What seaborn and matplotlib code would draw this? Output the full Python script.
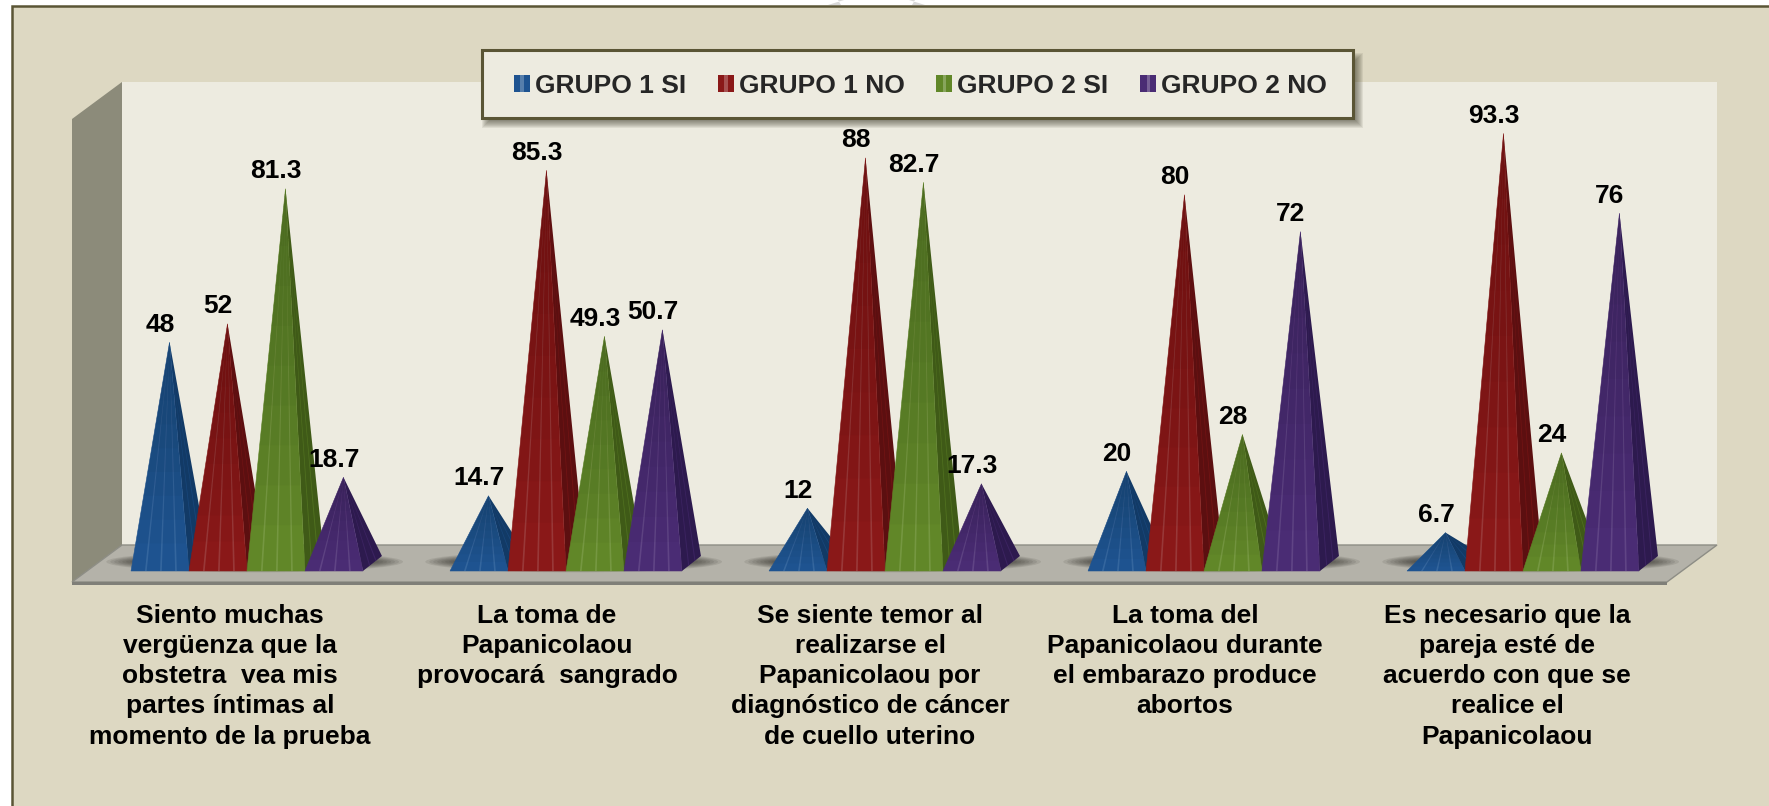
#!/usr/bin/env python3
# -*- coding: utf-8 -*-

import matplotlib as mpl
import matplotlib.pyplot as plt
import seaborn as sns
import numpy as np
import pandas as pd
from matplotlib.legend_handler import HandlerPatch
from matplotlib.patches import Ellipse, Patch, Polygon, Rectangle
from matplotlib.transforms import ScaledTranslation

mpl.use("Agg")

sns.set_style("white")
plt.rcParams["font.family"] = ["Liberation Sans", "DejaVu Sans"]

PREGUNTAS = [
    "Siento muchas\nvergüenza que la\nobstetra  vea mis\npartes íntimas al\nmomento de la prueba",
    "La toma de\nPapanicolaou\nprovocará  sangrado",
    "Se siente temor al\nrealizarse el\nPapanicolaou por\ndiagnóstico de cáncer\nde cuello uterino",
    "La toma del\nPapanicolaou durante\nel embarazo produce\nabortos",
    "Es necesario que la\npareja esté de\nacuerdo con que se\nrealice el\nPapanicolaou",
]
GRUPOS = ["GRUPO 1 SI", "GRUPO 1 NO", "GRUPO 2 SI", "GRUPO 2 NO"]

grupo1_si = [48, 14.7, 12, 20, 6.7]
grupo1_no = [52, 85.3, 88, 80, 93.3]
grupo2_si = [81.3, 49.3, 82.7, 28, 24]
grupo2_no = [18.7, 50.7, 17.3, 72, 76]

# front / stripe / side colours per series
front = ["#1e5390", "#8a1818", "#618728", "#4a2c74"]
stripe = ["#4474a8", "#a34f4f", "#83a352", "#6f5592"]
side = ["#123a66", "#5c0f10", "#3f5a17", "#2d1a4e"]

W, H = 1769, 806
BG = "#ddd8c2"
FRAME = "#5a5535"
WALL = "#edebe0"

# pixel layout of the fake 3d box
AX_L, AX_R, AX_TOP, AX_BOTTOM = 87.5, 1682.5, 110, 571
PX_X = (AX_R - AX_L) / 5
PX_Y = (AX_BOTTOM - AX_TOP) / 100
DEPTH_X = 19 / PX_X
DEPTH_Y = 15 / PX_Y
LABEL_SHIFT = [-17, -19, -15, -19, -16]

df = pd.DataFrame(
    {
        "pregunta": PREGUNTAS * 4,
        "grupo": np.repeat(GRUPOS, len(PREGUNTAS)),
        "valor": grupo1_si + grupo1_no + grupo2_si + grupo2_no,
    }
)

fig = plt.figure(figsize=(W / 100, H / 100), dpi=100, facecolor="white")

# background: frame, walls and floor, in pixels
bg = fig.add_axes([0, 0, 1, 1])
bg.set_xlim(0, W)
bg.set_ylim(H, 0)
bg.axis("off")
bg.add_patch(Rectangle((12, 6), W, H, facecolor=BG, edgecolor=FRAME, linewidth=1.8))
for x_m in [838, 915]:
    d = 1 if x_m < 850 else -1
    bg.add_patch(Polygon([(x_m, 0), (x_m + 6 * d, 0), (x_m - 10 * d, 5), (x_m + 3 * d, 5)],
                         color="#d8d8d8", linewidth=0))
bg.add_patch(Rectangle((122, 82), 1595, 463, facecolor=WALL, linewidth=0))
bg.add_patch(Polygon([(72, 119), (122, 82), (122, 545), (72, 582)], facecolor="#8c8b7a", linewidth=0))
bg.add_patch(Polygon([(122, 545), (1717, 545), (1667, 582), (72, 582)], facecolor="#b4b2a9",
                     edgecolor="#8d8d85", linewidth=1.0))
bg.add_patch(Rectangle((72, 582), 1595, 2.5, facecolor="#7f7f78", linewidth=0))

# legend box with a soft shadow
for k in range(9):
    bg.add_patch(Rectangle((482 + k, 53 + k), 881 - 2 * k, 75 - 2 * k,
                           facecolor="#3c3a2c", alpha=0.09, linewidth=0))
bg.add_patch(Rectangle((482, 50), 871, 68, facecolor=WALL, edgecolor=FRAME, linewidth=2.2))

ax = fig.add_axes([AX_L / W, 1 - AX_BOTTOM / H, (AX_R - AX_L) / W, (AX_BOTTOM - AX_TOP) / H])
ax.patch.set_visible(False)
sns.barplot(
    data=df,
    x="pregunta",
    y="valor",
    hue="grupo",
    hue_order=GRUPOS,
    order=PREGUNTAS,
    palette=front,
    width=0.727,
    gap=0,
    legend=False,
    ax=ax,
)
ax.set_xlim(-0.5, 4.5)
ax.set_ylim(0, 100)
ax.set_xlabel("")
ax.set_ylabel("")
ax.set_yticks([])
sns.despine(ax=ax, left=True, bottom=True)

# shadow on the floor under each group
for i in range(len(PREGUNTAS)):
    for s, t in zip(np.linspace(1.0, 0.76, 10), np.linspace(1.0, 0.3, 10)):
        ax.add_patch(Ellipse((i + 0.024, 2.0), 0.93 * s, 4.6 * t, facecolor="#2c2b24",
                             alpha=0.11, linewidth=0, clip_on=False, zorder=1))


def draw_pyramid(x0, x1, value, c_front, c_stripe, c_side, z):
    # the bar gives the base and the height, the pyramid goes on top of it
    apex = ((x0 + x1) / 2 + DEPTH_X / 2, value + DEPTH_Y / 2)
    back = (x1 + DEPTH_X, DEPTH_Y)
    ax.add_patch(Polygon([(x1, 0), back, apex], facecolor=c_side, linewidth=0, zorder=z, clip_on=False))
    for f in [0.33, 0.66]:
        p = (x1 + DEPTH_X * f, DEPTH_Y * f)
        q = (x1 + DEPTH_X * (f + 0.05), DEPTH_Y * (f + 0.05))
        ax.add_patch(Polygon([p, q, apex], facecolor=c_front, alpha=0.5, linewidth=0, zorder=z, clip_on=False))
    ax.add_patch(Polygon([(x0, 0), (x1, 0), apex], facecolor=c_front, edgecolor=c_front,
                         linewidth=0.4, zorder=z, clip_on=False))
    w = x1 - x0
    for f in [0.24, 0.5, 0.76]:
        ax.add_patch(Polygon([(x0 + w * f, 0), (x0 + w * (f + 0.03), 0), apex], facecolor=c_stripe,
                             alpha=0.6, linewidth=0, zorder=z, clip_on=False))
    # gets darker towards the tip
    for t in np.linspace(0.12, 0.85, 8):
        ax.add_patch(Polygon(
            [(x0 + (apex[0] - x0) * t, apex[1] * t), (x1 + (apex[0] - x1) * t, apex[1] * t), apex],
            facecolor="black", alpha=0.025, linewidth=0, zorder=z, clip_on=False))


bars = []
for idx, container in enumerate(ax.containers):
    for bar in container:
        bars.append((bar.get_x(), bar, idx))
        bar.set_visible(False)
    ax.bar_label(container, fmt="%g", padding=9.4, fontsize=19, fontweight="bold",
                 color="black", zorder=50, clip_on=False)

for n, (x, bar, idx) in enumerate(sorted(bars, key=lambda b: b[0])):
    draw_pyramid(x, x + bar.get_width(), bar.get_height(), front[idx], stripe[idx], side[idx], 2 + n * 0.1)

# tick labels, Excel placed them a bit off centre
ax.tick_params(axis="x", length=0, pad=23.5)
ax.set_xticks(range(len(PREGUNTAS)))
ax.set_xticklabels(PREGUNTAS, fontsize=19, fontweight="bold", color="black", linespacing=1.33)
for label, shift in zip(ax.get_xticklabels(), LABEL_SHIFT):
    label.set_transform(label.get_transform() + ScaledTranslation(shift / 100, 0, fig.dpi_scale_trans))


class StripedSquare(HandlerPatch):
    def create_artists(self, legend, orig_handle, xdescent, ydescent, width, height, fontsize, trans):
        box = Rectangle((-xdescent, -ydescent), width, height, facecolor=orig_handle.get_facecolor(),
                        linewidth=0, transform=trans)
        line = Rectangle((-xdescent + width * 0.42, -ydescent), width * 0.22, height,
                         facecolor="white", alpha=0.25, linewidth=0, transform=trans)
        return [box, line]


handles = [Patch(facecolor=c, label=g) for c, g in zip(front, GRUPOS)]
ax.legend(
    handles=handles,
    ncol=4,
    loc="center",
    bbox_to_anchor=(920.5 / W, 1 - 86 / H),
    bbox_transform=fig.transFigure,
    frameon=False,
    prop={"size": 19, "weight": "bold"},
    handlelength=0.6,
    handleheight=0.6,
    handletextpad=0.2,
    columnspacing=1.2,
    borderpad=0,
    handler_map={Patch: StripedSquare()},
)

fig.savefig("out.png", dpi=100)
